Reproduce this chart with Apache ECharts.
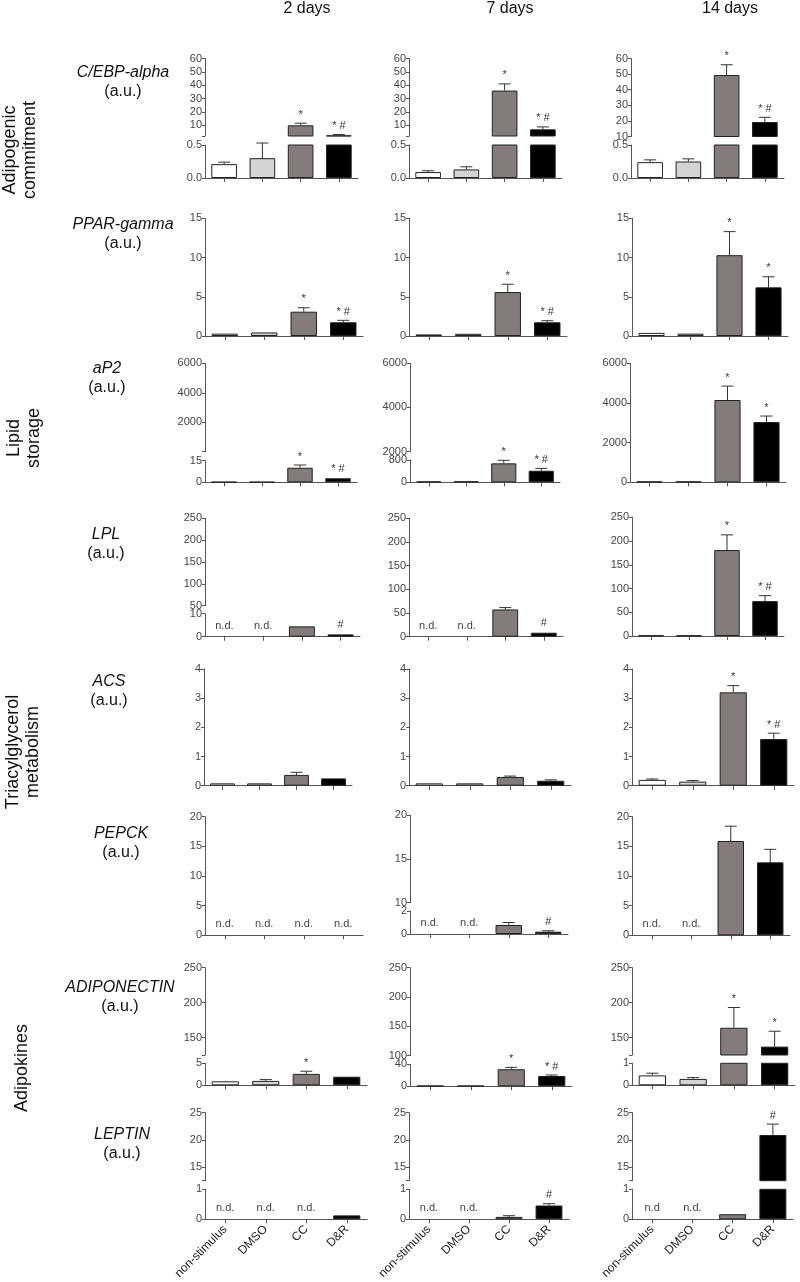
<!DOCTYPE html>
<html>
<head>
<meta charset="utf-8">
<script src="https://cdn.jsdelivr.net/npm/echarts@6/dist/echarts.min.js"></script>
<style>
html,body{margin:0;padding:0;background:#ffffff;}
#chart{width:800px;height:1282px;}
</style>
</head>
<body>
<div id="chart"></div>
<script>
// ---------------- DATA ----------------
const categories = ['non-stimulus', 'DMSO', 'CC', 'D&R'];
const dayTitles = ['2 days', '7 days', '14 days'];
const geneNames = ['C/EBP-alpha', 'PPAR-gamma', 'aP2', 'LPL', 'ACS', 'PEPCK', 'ADIPONECTIN', 'LEPTIN'];
const unitLabel = '(a.u.)';
const groupNames = ['Adipogenic\ncommitment', 'Lipid\nstorage', 'Triacylglycerol\nmetabolism', 'Adipokines'];

// means[day][category] (null = n.d.), sem[day][category], sig[day][category]
const cebpMean = [[0.21, 0.30, 10.0, 2.5], [0.09, 0.13, 36, 7], [0.24, 0.25, 49.4, 19.3]];
const cebpSem  = [[0.03, 0.23, 1.6, 0.6], [0.02, 0.04, 5, 1.8], [0.035, 0.04, 6.6, 3]];
const cebpSig  = [['', '', '*', '* #'], ['', '', '*', '* #'], ['', '', '*', '* #']];
const cebpRange = [[[2, 60], [0, 0.5]], [[2, 60], [0, 0.5]], [[10, 60], [0, 0.5]]];
const cebpTicks = [[[10, 20, 30, 40, 50, 60], [0, 0.5]], [[10, 20, 30, 40, 50, 60], [0, 0.5]], [[10, 20, 30, 40, 50, 60], [0, 0.5]]];

const pparMean = [[0.3, 0.45, 3.1, 1.75], [0.2, 0.28, 5.6, 1.75], [0.4, 0.3, 10.3, 6.2]];
const pparSem  = [[0.06, 0.08, 0.5, 0.25], [0.05, 0.08, 1.0, 0.2], [0.06, 0.05, 3.0, 1.35]];
const pparSig  = [['', '', '*', '* #'], ['', '', '*', '* #'], ['', '', '*', '*']];
const pparRange = [[[0, 15]], [[0, 15]], [[0, 15]]];
const pparTicks = [[[0, 5, 10, 15]], [[0, 5, 10, 15]], [[0, 5, 10, 15]]];

const ap2Mean = [[0.2, 0.2, 10.1, 2.8], [30, 35, 680, 415], [40, 40, 4150, 3040]];
const ap2Sem  = [[0.05, 0.05, 1.9, 0.4], [10, 10, 110, 85], [10, 10, 700, 300]];
const ap2Sig  = [['', '', '*', '* #'], ['', '', '*', '* #'], ['', '', '*', '*']];
const ap2Range = [[[15, 6000], [0, 15]], [[2000, 6000], [0, 800]], [[0, 6000]]];
const ap2Ticks = [[[2000, 4000, 6000], [0, 15]], [[2000, 4000, 6000], [0, 800]], [[0, 2000, 4000, 6000]]];

const lplMean = [[null, null, 4.5, 1.0], [null, null, 57.5, 8.4], [1, 1, 181, 73.5]];
const lplSem  = [[0, 0, 0.25, 0.2], [0, 0, 4, 1.6], [0.2, 0.2, 32, 11.5]];
const lplSig  = [['n.d.', 'n.d.', '', '#'], ['n.d.', 'n.d.', '', '#'], ['', '', '*', '* #']];
const lplRange = [[[50, 250], [0, 10]], [[0, 250]], [[0, 250]]];
const lplTicks = [[[50, 100, 150, 200, 250], [0, 10]], [[0, 50, 100, 150, 200, 250]], [[0, 50, 100, 150, 200, 250]]];

const acsMean = [[0.08, 0.08, 0.37, 0.25], [0.08, 0.08, 0.3, 0.17], [0.2, 0.14, 3.2, 1.6]];
const acsSem  = [[0.02, 0.01, 0.09, 0.02], [0.02, 0.02, 0.03, 0.03], [0.03, 0.04, 0.23, 0.2]];
const acsSig  = [['', '', '', ''], ['', '', '', ''], ['', '', '*', '* #']];
const acsRange = [[[0, 4]], [[0, 4]], [[0, 4]]];
const acsTicks = [[[0, 1, 2, 3, 4]], [[0, 1, 2, 3, 4]], [[0, 1, 2, 3, 4]]];

const pepckMean = [[null, null, null, null], [null, null, 0.78, 0.2], [null, null, 15.9, 12.3]];
const pepckSem  = [[0, 0, 0, 0], [0, 0, 0.22, 0.08], [0, 0, 2.5, 2.2]];
const pepckSig  = [['n.d.', 'n.d.', 'n.d.', 'n.d.'], ['n.d.', 'n.d.', '', '#'], ['n.d.', 'n.d.', '', '']];
const pepckRange = [[[0, 20]], [[10, 20], [0, 2]], [[0, 20]]];
const pepckTicks = [[[0, 5, 10, 15, 20]], [[10, 15, 20], [0, 2]], [[0, 5, 10, 15, 20]]];

const adipoMean = [[0.9, 1.0, 2.6, 1.95], [1, 1, 31, 18.7], [0.45, 0.29, 164, 137]];
const adipoSem  = [[0.1, 0.3, 0.6, 0.1], [0.3, 0.3, 3.5, 1.8], [0.1, 0.06, 29, 22]];
const adipoSig  = [['', '', '*', ''], ['', '', '*', '* #'], ['', '', '*', '*']];
const adipoRange = [[[125, 250], [0, 5]], [[100, 250], [0, 40]], [[125, 250], [0, 1]]];
const adipoTicks = [[[150, 200, 250], [0, 5]], [[100, 150, 200, 250], [0, 40]], [[150, 200, 250], [0, 1]]];

const leptinMean = [[null, null, null, 0.13], [null, null, 0.08, 0.46], [null, null, 0.17, 20.9]];
const leptinSem  = [[0, 0, 0, 0.01], [0, 0, 0.04, 0.06], [0, 0, 0.02, 2.0]];
const leptinSig  = [['n.d.', 'n.d.', 'n.d.', ''], ['n.d.', 'n.d.', '', '#'], ['n.d', 'n.d.', '', '#']];
const leptinRange = [[[12.5, 25], [0, 1]], [[12.5, 25], [0, 1]], [[12.5, 25], [0, 1]]];
const leptinTicks = [[[15, 20, 25], [0, 1]], [[15, 20, 25], [0, 1]], [[15, 20, 25], [0, 1]]];

// ---------------- LAYOUT ----------------
const genes = [
  {mean: cebpMean, sem: cebpSem, sig: cebpSig, range: cebpRange, ticks: cebpTicks},
  {mean: pparMean, sem: pparSem, sig: pparSig, range: pparRange, ticks: pparTicks},
  {mean: ap2Mean, sem: ap2Sem, sig: ap2Sig, range: ap2Range, ticks: ap2Ticks},
  {mean: lplMean, sem: lplSem, sig: lplSig, range: lplRange, ticks: lplTicks},
  {mean: acsMean, sem: acsSem, sig: acsSig, range: acsRange, ticks: acsTicks},
  {mean: pepckMean, sem: pepckSem, sig: pepckSig, range: pepckRange, ticks: pepckTicks},
  {mean: adipoMean, sem: adipoSem, sig: adipoSig, range: adipoRange, ticks: adipoTicks},
  {mean: leptinMean, sem: leptinSem, sig: leptinSig, range: leptinRange, ticks: leptinTicks}
];

const layoutX = [
  [[205, 358], [409, 562], [631, 784]],
  [[205, 363], [409, 567], [632, 788]],
  [[205, 357], [410, 560], [630, 786]],
  [[205, 360], [409, 563], [632, 784]],
  [[204, 352], [409, 571], [632, 794]],
  [[205, 363], [410, 568], [632, 790]],
  [[205, 367], [410, 572], [632, 795]],
  [[205, 367], [409, 569], [632, 793]]
];
const layoutY = [
  [[[58.5, 136], [145, 178]], [[58.5, 136], [145, 178]], [[58.5, 136.5], [145, 178]]],
  [[[218.3, 336]], [[218.3, 336]], [[218.3, 336]]],
  [[[363.3, 451.7], [460.7, 482.3]], [[363.3, 451.5], [460, 482.3]], [[363.3, 482.3]]],
  [[[518.3, 605.7], [613.7, 636.7]], [[518.3, 636.7]], [[517.3, 636]]],
  [[[669, 785.7]], [[669, 785.7]], [[669, 785.7]]],
  [[[816.7, 935.3]], [[815.3, 902.7], [911, 934]], [[816.7, 935.3]]],
  [[[967.7, 1055], [1063.3, 1085.3]], [[967.7, 1055.7], [1064.3, 1086.3]], [[967.7, 1055], [1063.3, 1085.3]]],
  [[[1112.7, 1180.7], [1189.3, 1219.3]], [[1112.7, 1180.7], [1189.3, 1219.3]], [[1112.7, 1180.7], [1189.3, 1219.3]]]
];
const geneLabelPos = [[123, 73], [123, 225], [107, 369], [106, 535], [109, 682], [121, 834], [120, 988], [122, 1135]];
const groupLabelPos = [[20, 150], [24, 438], [23, 752], [22, 1068]];
const titlePos = [[307, 9], [510, 9], [730, 9]];

const FONT = "'Liberation Sans', Arial, Helvetica, sans-serif";
const NARROW = "'Liberation Sans Narrow', 'Liberation Sans', Arial, sans-serif";
const barColors = ['#ffffff', '#d4d4d4', '#847b7b', '#000000'];
const AXIS_COLOR = '#555555';

const grids = [], xAxes = [], yAxes = [], series = [];

genes.forEach((g, r) => {
  for (let c = 0; c < 3; c++) {
    const [x0, x1] = layoutX[r][c];
    const segs = layoutY[r][c];
    segs.forEach(([top, bottom], k) => {
      const [mn, mx] = g.range[c][k];
      const labels = g.ticks[c][k];
      const isBottom = k === segs.length - 1;
      const gi = grids.length;
      grids.push({left: x0, top: top, width: x1 - x0, height: bottom - top});
      const tickVals = labels.indexOf(mn) >= 0 ? labels.slice() : [mn].concat(labels);
      const decimals = labels.some(v => !Number.isInteger(v));
      xAxes.push({
        gridIndex: gi, type: 'category', data: categories, show: isBottom,
        axisLine: {show: isBottom, lineStyle: {color: AXIS_COLOR, width: 1}},
        axisTick: {show: isBottom, alignWithLabel: true, length: 4, lineStyle: {color: AXIS_COLOR}},
        axisLabel: {show: isBottom && r === genes.length - 1, interval: 0, rotate: 45, margin: 8,
          fontFamily: FONT, fontSize: 12, color: '#222'},
        splitLine: {show: false}
      });
      yAxes.push({
        gridIndex: gi, type: 'value', min: mn, max: mx,
        splitLine: {show: false},
        axisLine: {show: true, onZero: false, lineStyle: {color: AXIS_COLOR, width: 1}},
        axisTick: {show: true, length: 3, customValues: tickVals, lineStyle: {color: AXIS_COLOR}},
        axisLabel: {show: true, customValues: labels, margin: 3, fontFamily: NARROW, fontSize: 11, color: '#444',
          formatter: v => decimals ? Number(v).toFixed(1) : String(v)}
      });
      const means = g.mean[c], sems = g.sem[c], sigs = g.sig[c];
      const inSeg = v => v != null && v <= mx && (isBottom || v > mn);
      series.push({
        type: 'bar', xAxisIndex: gi, yAxisIndex: gi, barWidth: '67%', clip: true, silent: true, animation: false,
        itemStyle: {borderColor: '#222', borderWidth: 1},
        data: means.map((v, i) => (v == null || (!isBottom && v <= mn)) ? '-' :
          {value: v, itemStyle: {color: barColors[i]}})
      });
      series.push({
        type: 'custom', xAxisIndex: gi, yAxisIndex: gi, silent: true, animation: false, clip: false,
        data: means.map((v, i) => [i, v == null ? 0 : v, v == null ? 0 : v + sems[i]]),
        renderItem: (params, api) => {
          const i = params.dataIndex;
          const v = means[i];
          const children = [];
          const sig = sigs[i];
          if (v == null) {
            if (isBottom && sig) {
              const p = api.coord([i, 0]);
              children.push({type: 'text', x: p[0], y: p[1] - 11,
                style: {text: sig, align: 'center', verticalAlign: 'middle', fontFamily: NARROW, fontSize: 11, fill: '#444'}});
            }
            return {type: 'group', children};
          }
          if (!inSeg(v)) return {type: 'group', children};
          const t = v + sems[i];
          const p0 = api.coord([i, v]);
          const p1 = api.coord([i, t]);
          if (p0[1] - p1[1] > 0.8) {
            children.push({type: 'line', shape: {x1: p0[0], y1: p0[1], x2: p1[0], y2: p1[1]},
              style: {stroke: '#333', lineWidth: 1}});
            children.push({type: 'line', shape: {x1: p1[0] - 6, y1: p1[1], x2: p1[0] + 6, y2: p1[1]},
              style: {stroke: '#333', lineWidth: 1}});
          }
          if (sig) {
            children.push({type: 'text', x: p1[0], y: p1[1] - 3,
              style: {text: sig, align: 'center', verticalAlign: 'bottom', fontFamily: FONT, fontSize: 11, fill: '#333'}});
          }
          return {type: 'group', children};
        }
      });
    });
  }
});

const graphics = [];
dayTitles.forEach((t, c) => {
  graphics.push({type: 'text', x: titlePos[c][0], y: titlePos[c][1],
    style: {text: t, align: 'center', verticalAlign: 'middle', fontFamily: FONT, fontSize: 16, fill: '#111'}});
});
geneNames.forEach((n, r) => {
  const [gx, gy] = geneLabelPos[r];
  graphics.push({type: 'text', x: gx, y: gy,
    style: {text: n, align: 'center', verticalAlign: 'middle', fontFamily: FONT, fontStyle: 'italic', fontSize: 16, fill: '#111'}});
  graphics.push({type: 'text', x: gx, y: gy + 19,
    style: {text: unitLabel, align: 'center', verticalAlign: 'middle', fontFamily: FONT, fontSize: 16, fill: '#111'}});
});
groupNames.forEach((n, k) => {
  const [gx, gy] = groupLabelPos[k];
  graphics.push({type: 'text', x: gx, y: gy, rotation: Math.PI / 2,
    style: {text: n, align: 'center', verticalAlign: 'middle', fontFamily: FONT, fontSize: 18, lineHeight: 20, fill: '#111'}});
});

const chart = echarts.init(document.getElementById('chart'), null, {renderer: 'canvas'});
chart.setOption({
  animation: false,
  backgroundColor: '#ffffff',
  grid: grids,
  xAxis: xAxes,
  yAxis: yAxes,
  series: series,
  graphic: graphics
});
</script>
</body>
</html>
